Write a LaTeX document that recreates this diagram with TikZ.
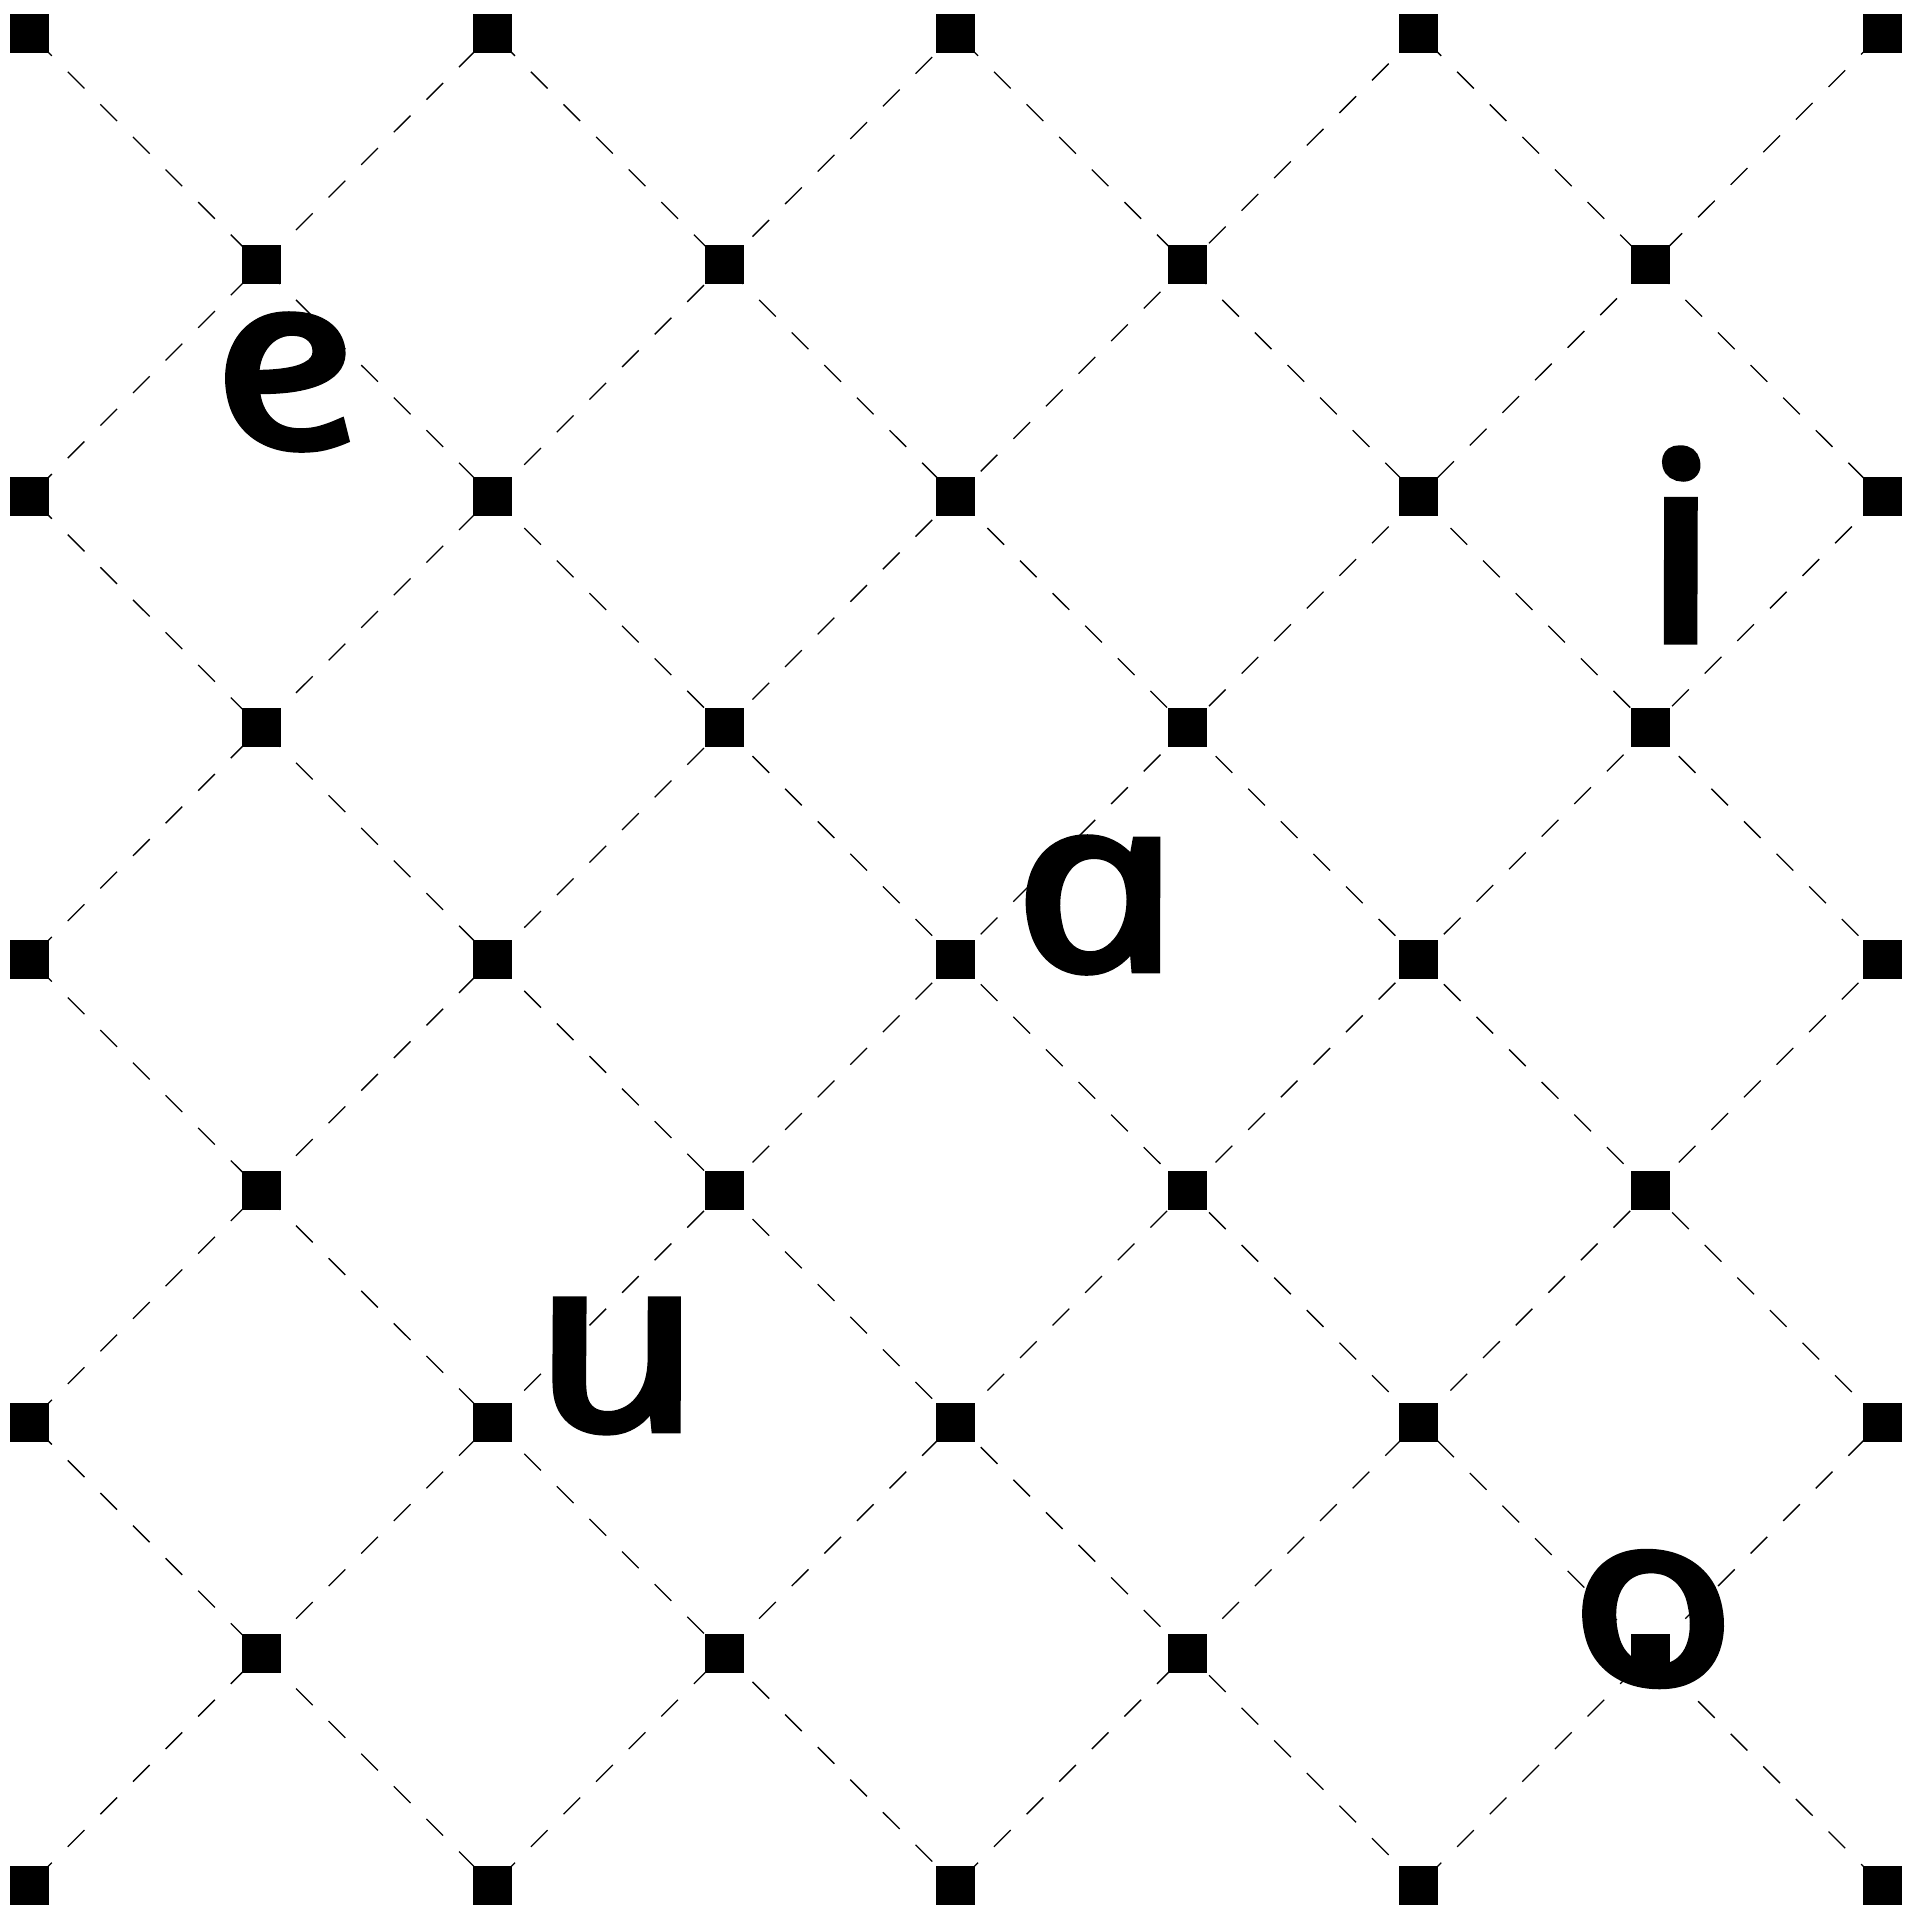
\documentclass[tikz,border=0pt]{standalone}
\usepackage{fontspec}
\newfontfamily\hand{Open Sans}[ItalicFeatures={FakeSlant=-0.21,FakeBold=3.5}]
\newcommand\widechar[1]{\scalebox{1.2}[1]{#1}}
\pgfdeclarelayer{bg}
\pgfsetlayers{bg,main}
\begin{document}
\begin{tikzpicture}[x=0.5pt,y=-0.5pt,
  dot/.style={shape=rectangle,fill=black,minimum size=19.5pt,inner sep=0pt,outer sep=0pt},
  grid line/.style={line width=0.65pt,dash pattern=on 11.8pt off 11.25pt,dash phase=19.05pt},
  letter/.style={inner sep=0pt,font=\hand\itshape\fontsize{120}{120}\selectfont}]
\useasboundingbox (0,0) rectangle (1922,1912);
% lattice of squares
\foreach \i in {0,...,8}{
  \foreach \j in {0,...,8}{
    \pgfmathtruncatemacro\myparity{mod(\i+\j,2)}
    \ifnum\myparity=0
      \node[dot] (p-\i-\j) at ({29.5+231.56*\i},{33.5+231.44*\j}) {};
    \fi
  }
}
\begin{pgfonlayer}{bg}
% falling diagonals
\foreach \c in {-6,-4,...,6}{
  \pgfmathtruncatemacro\sa{max(\c,0)}
  \pgfmathtruncatemacro\sb{max(0-(\c),0)}
  \pgfmathtruncatemacro\ea{min(8,8+\c)}
  \pgfmathtruncatemacro\eb{min(8,8-\c)}
  \draw[grid line] (p-\sa-\sb.center) -- (p-\ea-\eb.center);
}
% rising diagonals
\foreach \s in {2,4,...,14}{
  \pgfmathtruncatemacro\sa{max(0,\s-8)}
  \pgfmathtruncatemacro\sb{\s-\sa}
  \pgfmathtruncatemacro\ea{min(8,\s)}
  \pgfmathtruncatemacro\eb{\s-\ea}
  \draw[grid line] (p-\sa-\sb.center) -- (p-\ea-\eb.center);
}
\end{pgfonlayer}
% letters
\node[letter] (le) at (302,382) {\widechar{e}};
\node[letter] (li) at (1697,545) {\scalebox{1.2}[1.08]{i}};
\node[letter] (la) at (1112,905) {\widechar{a}};
\node[letter] (lu) at (634,1366) {\widechar{u}};
\node[letter] (lo) at (1669,1619) {\widechar{o}};
\end{tikzpicture}
\end{document}
